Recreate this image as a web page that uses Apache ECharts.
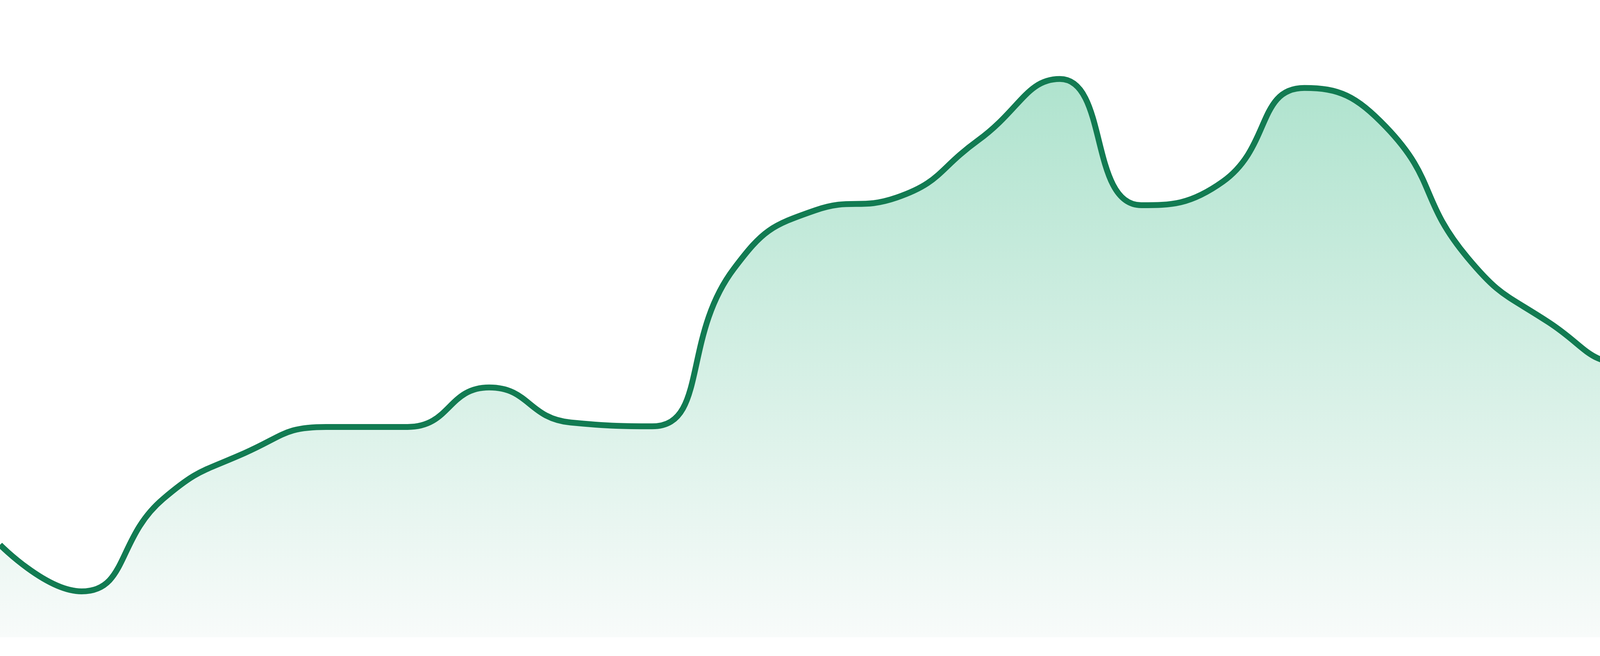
<!DOCTYPE html>
<html>
<head>
<meta charset="utf-8">
<script src="https://cdn.jsdelivr.net/npm/echarts@6/dist/echarts.min.js"></script>
<style>
  html, body { margin: 0; padding: 0; background: #fff; }
  #box { width: 4800px; height: 1680px; }
</style>
</head>
<body>
<div id="box"></div>
<script>
// 24 evenly spaced samples, values on a 0-100 scale
const categories = ['1', '2', '3', '4', '5', '6', '7', '8', '9', '10', '11', '12',
    '13', '14', '15', '16', '17', '18', '19', '20', '21', '22', '23', '24'];
const values = [14.5, 7.2, 21.7, 28.9, 33.0, 33.0, 39.2, 33.7, 33.1, 57.8, 67.0, 69.0,
    78.0, 87.6, 67.8, 71.5, 86.2, 80.1, 59.6, 49.4, 42.9, 44.9, 57.7, 53.7];

let myChart = echarts.init(document.getElementById('box'));

let option = {
    animation: false,
    backgroundColor: '#ffffff',
    grid: { left: 0, right: 0, top: 0, bottom: 48 },
    xAxis: {
        type: 'category',
        boundaryGap: false,
        data: categories,
        show: false
    },
    yAxis: {
        type: 'value',
        min: 0,
        max: 100,
        show: false
    },
    series: [
        {
            type: 'line',
            data: values,
            smooth: true,
            symbol: 'none',
            lineStyle: { color: '#127b52', width: 15 },
            // area is 0.7 opaque by default, make it full so the gradient colours hold
            areaStyle: {
                opacity: 1,
                color: new echarts.graphic.LinearGradient(0, 0, 0, 1, [
                    { offset: 0, color: '#afe3ce' },
                    { offset: 1, color: '#f8fbfa' }
                ])
            }
        }
    ]
};
myChart.setOption(option);
</script>
</body>
</html>
